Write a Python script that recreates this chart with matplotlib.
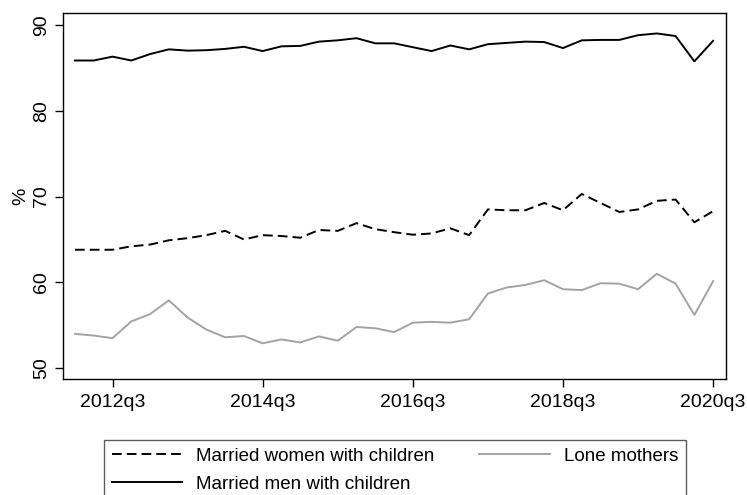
import numpy as np
import matplotlib; matplotlib.use("Agg")
import matplotlib.pyplot as plt

plt.rcParams["font.family"] = ["Liberation Sans", "DejaVu Sans"]

# quarterly, 2012q1 .. 2020q3
quarters = [f"{y}q{q}" for y in range(2012, 2021) for q in range(1, 5)][:35]
married_women = [63.8, 63.8, 63.8, 64.2, 64.4, 64.9, 65.15, 65.5, 66.0, 65.0,
                 65.5, 65.4, 65.2, 66.1, 66.0, 66.9, 66.2, 65.85, 65.55, 65.7,
                 66.3, 65.5, 68.5, 68.4, 68.4, 69.25, 68.4, 70.3, 69.25, 68.2,
                 68.5, 69.5, 69.65, 67.0, 68.3]
married_men = [85.85, 85.85, 86.3, 85.85, 86.6, 87.15, 87.0, 87.05, 87.2, 87.45,
               86.95, 87.5, 87.55, 88.05, 88.2, 88.45, 87.85, 87.85, 87.4, 86.95,
               87.6, 87.15, 87.75, 87.9, 88.05, 88.0, 87.3, 88.2, 88.25, 88.25,
               88.8, 89.0, 88.7, 85.75, 88.15]
lone_mothers = [54.0, 53.8, 53.5, 55.45, 56.3, 57.9, 55.9, 54.5, 53.6, 53.75,
                52.9, 53.35, 53.0, 53.7, 53.2, 54.8, 54.65, 54.2, 55.3, 55.4,
                55.3, 55.7, 58.7, 59.4, 59.7, 60.25, 59.2, 59.1, 59.9, 59.85,
                59.2, 61.0, 59.85, 56.2, 60.15]
tick_labels = ["2012q3", "2014q3", "2016q3", "2018q3", "2020q3"]

x = np.arange(len(quarters))

fig = plt.figure(figsize=(7.47, 4.95), dpi=100)
ax = fig.add_axes([0.0843, 0.234, 0.8877, 0.740])

l1, = ax.plot(x, married_women, color="black", lw=1.4, dashes=(5, 2.6),
              label="Married women with children")
l2, = ax.plot(x, married_men, color="black", lw=1.4, label="Married men with children")
l3, = ax.plot(x, lone_mothers, color="#a3a3a3", lw=1.4, label="Lone mothers")

ax.set_xlim(-0.64, 34.69)
ax.set_ylim(48.72, 91.4)
ax.set_yticks([50, 60, 70, 80, 90])
ax.set_xticks([quarters.index(t) for t in tick_labels])
ax.set_xticklabels(tick_labels)
for lab in ax.get_yticklabels():
    lab.set_rotation(90)
    lab.set_va("center")
ax.tick_params(axis="x", pad=5)
ax.tick_params(axis="y", pad=3)
ax.tick_params(axis="both", labelsize=14, direction="out", length=6, width=1,
               color="black")
ax.set_ylabel("%", fontsize=14, labelpad=3)
for s in ax.spines.values():
    s.set_linewidth(1.0)

leg = fig.legend(handles=[l1, l2, l3], ncol=2, loc="upper left",
                 bbox_to_anchor=(104 / 747, 1 - 440 / 495), borderaxespad=0,
                 fontsize=13.5, handlelength=3.75, frameon=True, fancybox=False,
                 edgecolor="#333333", borderpad=0.4, labelspacing=0.6,
                 columnspacing=2.4, handletextpad=0.75)
leg.get_frame().set_linewidth(1.0)

fig.savefig("out.png", dpi=100)
